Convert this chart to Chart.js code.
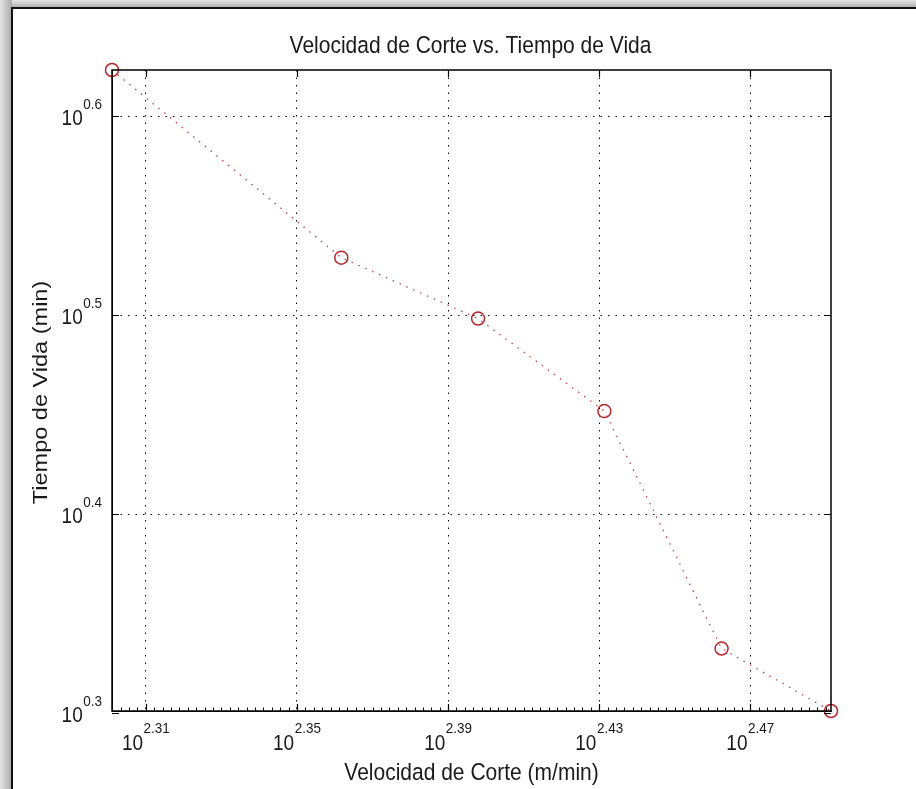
<!DOCTYPE html>
<html>
<head>
<meta charset="utf-8">
<script src="https://cdn.jsdelivr.net/npm/chart.js@4.4.0/dist/chart.umd.min.js"></script>
<style>
  html, body { margin: 0; padding: 0; background: #fff; overflow: hidden; }
  canvas { display: block; }
</style>
</head>
<body>
<canvas id="grafico" width="916" height="789"></canvas>
<script>
// datos (escala log-log)
const velocidad = [200, 230, 250, 270, 290, 310];      // m/min
const tiempo = [4.2, 3.38, 3.15, 2.83, 2.15, 2.0];     // min
const xTickExps = [2.31, 2.35, 2.39, 2.43, 2.47];
const yTickExps = [0.3, 0.4, 0.5, 0.6];
const xMinorStep = 0.04 / 18;

const titulo = 'Velocidad de Corte vs. Tiempo de Vida';
const xTitulo = 'Velocidad de Corte (m/min)';
const yTitulo = 'Tiempo de Vida (min)';

const FONT = '"Liberation Sans", Arial, sans-serif';
const STRETCH = 1.12; // el texto del original esta algo estirado en vertical
const TEXT_COLOR = '#1a1a1a';
const SUP = 13.5;

function texto(ctx, str, x, y, size, align) {
  ctx.save();
  ctx.font = size + 'px ' + FONT;
  ctx.fillStyle = TEXT_COLOR;
  ctx.textAlign = align || 'left';
  ctx.textBaseline = 'alphabetic';
  ctx.translate(x, y);
  ctx.scale(1, STRETCH);
  ctx.fillText(str, 0, 0);
  ctx.restore();
}

function anchoTexto(ctx, str, size) {
  ctx.save();
  ctx.font = size + 'px ' + FONT;
  const w = ctx.measureText(str).width;
  ctx.restore();
  return w;
}

// etiqueta tipo 10^e
function etiquetaPotencia(ctx, exp, left, baseBig, baseSup) {
  const w10 = anchoTexto(ctx, '10', 19);
  texto(ctx, '10', left, baseBig, 19);
  texto(ctx, exp, left + w10 + 0.5, baseSup, SUP);
}

function anchoPotencia(ctx, exp) {
  return anchoTexto(ctx, '10', 19) + 0.5 + anchoTexto(ctx, exp, SUP);
}

// lineas de rejilla solo dentro del rango del eje
function colorRejilla(c) {
  const s = c.scale;
  if (!c.tick) return '#000';
  return (c.tick.value < s.min * 0.999 || c.tick.value > s.max * 1.001) ? 'rgba(0,0,0,0)' : '#000';
}

const marco = {
  id: 'marco',
  beforeDraw(chart) {
    const ctx = chart.ctx;
    const W = chart.width, H = chart.height;
    ctx.save();
    ctx.fillStyle = '#fff';
    ctx.fillRect(0, 0, W, H);
    let g = ctx.createLinearGradient(0, 0, 12, 0);
    g.addColorStop(0, '#e6e6e6');
    g.addColorStop(1, '#a9a9a9');
    ctx.fillStyle = g;
    ctx.fillRect(0, 0, 12, H);
    g = ctx.createLinearGradient(0, 0, 0, 8);
    g.addColorStop(0, '#e6e6e6');
    g.addColorStop(1, '#a9a9a9');
    ctx.fillStyle = g;
    ctx.fillRect(12, 0, W - 12, 8);
    ctx.strokeStyle = '#111';
    ctx.lineWidth = 2;
    ctx.beginPath();
    ctx.moveTo(12, H);
    ctx.lineTo(12, 8);
    ctx.lineTo(W, 8);
    ctx.stroke();
    ctx.restore();
  },
  afterDraw(chart) {
    const ctx = chart.ctx;
    const a = chart.chartArea;
    const xs = chart.scales.x, ys = chart.scales.y;

    ctx.save();
    ctx.strokeStyle = '#000';
    ctx.lineWidth = 1.5;
    ctx.strokeRect(a.left, a.top, a.right - a.left, a.bottom - a.top);

    // marcas mayores hacia dentro
    ctx.lineWidth = 1.2;
    ctx.beginPath();
    xTickExps.forEach(e => {
      const px = Math.round(xs.getPixelForValue(Math.pow(10, e))) + 0.5;
      ctx.moveTo(px, a.bottom); ctx.lineTo(px, a.bottom - 7);
      ctx.moveTo(px, a.top); ctx.lineTo(px, a.top + 7);
    });
    yTickExps.forEach(e => {
      const py = Math.round(ys.getPixelForValue(Math.pow(10, e))) + 0.5;
      ctx.moveTo(a.left, py); ctx.lineTo(a.left + 7, py);
      ctx.moveTo(a.right, py); ctx.lineTo(a.right - 7, py);
    });
    ctx.stroke();

    // marcas menores en el eje x inferior
    ctx.lineWidth = 1;
    ctx.beginPath();
    const lo = Math.log10(xs.min), hi = Math.log10(xs.max);
    let e0 = xTickExps[0];
    while (e0 - xMinorStep > lo) e0 -= xMinorStep;
    for (let e = e0; e <= hi; e += xMinorStep) {
      const px = Math.round(xs.getPixelForValue(Math.pow(10, e))) + 0.5;
      ctx.moveTo(px, a.bottom); ctx.lineTo(px, a.bottom - 3.5);
    }
    ctx.stroke();
    ctx.restore();

    // etiquetas de los ejes
    xTickExps.forEach(e => {
      const px = xs.getPixelForValue(Math.pow(10, e));
      const exp = e.toFixed(2);
      const w = anchoPotencia(ctx, exp);
      etiquetaPotencia(ctx, exp, px - w / 2, a.bottom + 39, a.bottom + 22);
    });
    yTickExps.forEach(e => {
      const py = ys.getPixelForValue(Math.pow(10, e));
      const exp = e.toFixed(1);
      const w = anchoPotencia(ctx, exp);
      etiquetaPotencia(ctx, exp, a.left - 10 - w, py + 8.5, py - 7);
    });

    const cx = (a.left + a.right) / 2;
    texto(ctx, titulo, cx - 1, 52.5, 21, 'center');
    texto(ctx, xTitulo, cx, 780, 21, 'center');

    ctx.save();
    ctx.font = '21px ' + FONT;
    ctx.fillStyle = TEXT_COLOR;
    ctx.textAlign = 'center';
    ctx.translate(47, (a.top + a.bottom) / 2 + 2);
    ctx.scale(1, STRETCH);
    ctx.rotate(-Math.PI / 2);
    ctx.fillText(yTitulo, 0, 0);
    ctx.restore();
  }
};

const ctx = document.getElementById('grafico').getContext('2d');
const grafico = new Chart(ctx, {
  type: 'line',
  data: {
    datasets: [{
      data: velocidad.map((v, i) => ({ x: v, y: tiempo[i] })),
      borderColor: '#c23a3a',
      borderWidth: 1.2,
      borderDash: [1.5, 6],
      tension: 0,
      fill: false,
      clip: false,
      pointStyle: 'circle',
      pointRadius: 6.5,
      pointBorderColor: '#b8262a',
      pointBackgroundColor: 'rgba(0,0,0,0)',
      pointBorderWidth: 1.5
    }]
  },
  options: {
    responsive: false,
    animation: false,
    devicePixelRatio: 1,
    layout: { padding: { left: 0, top: 70, right: 85, bottom: 78 } },
    plugins: {
      legend: { display: false },
      title: { display: false },
      tooltip: { enabled: false }
    },
    scales: {
      x: {
        type: 'logarithmic',
        min: Math.min(...velocidad),
        max: Math.max(...velocidad),
        afterBuildTicks: s => { s.ticks = xTickExps.map(e => ({ value: Math.pow(10, e) })); },
        afterFit: s => { s.height = 0; },
        ticks: { display: false },
        grid: { color: colorRejilla, lineWidth: 1, drawTicks: false },
        border: { display: true, color: '#000', width: 1, dash: [1.5, 6] }
      },
      y: {
        type: 'logarithmic',
        min: Math.min(...tiempo),
        max: Math.max(...tiempo),
        afterBuildTicks: s => { s.ticks = yTickExps.map(e => ({ value: Math.pow(10, e) })); },
        afterFit: s => { s.width = 112; },
        ticks: { display: false },
        grid: { color: colorRejilla, lineWidth: 1, drawTicks: false },
        border: { display: true, color: '#000', width: 1, dash: [1.5, 6] }
      }
    }
  },
  plugins: [marco]
});
</script>
</body>
</html>
